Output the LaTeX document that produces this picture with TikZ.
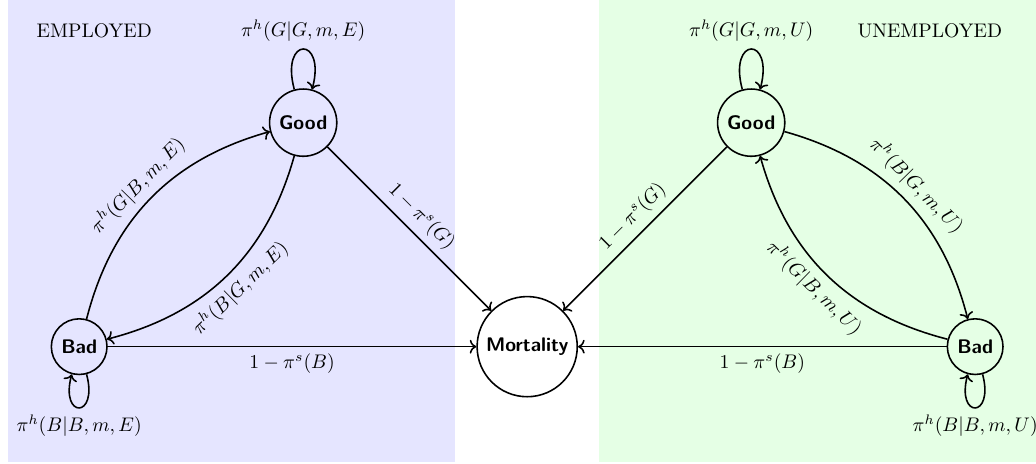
\documentclass[tikz,border=0pt]{standalone}
\usetikzlibrary{arrows.meta}

\begin{document}
\begin{tikzpicture}[
    health/.style={circle, draw, thick, font=\sffamily\bfseries},
    trans/.style={->, thick}]
  \useasboundingbox (-9.414,-2.08) rectangle (9.086,6.19);
  % regimes
  \fill[blue!10] (-9.27,-2.06) rectangle (-1.29,6.19);
  \fill[green!10] (1.29,-2.06) rectangle (9.086,6.19);
  \node (empl) at (-7.73,5.64) {EMPLOYED};
  \node (unempl) at (7.19,5.64) {UNEMPLOYED};
  % health states
  \node[health] (mort) at (0,0) {Mortality};
  \node[health] (goodE) at (-4,4) {Good};
  \node[health] (badE) at (-8,0) {Bad};
  \node[health] (goodU) at (4,4) {Good};
  \node[health] (badU) at (8,0) {Bad};
  % employed
  \draw[trans] (goodE) to[loop above] node[above] {$\pi^h(G|G,m,E)$} (goodE);
  \draw[trans] (badE) to[loop below] node[below] {$\pi^h(B|B,m,E)$} (badE);
  \draw[trans] (badE) to[bend left] node[above, sloped] {$\pi^h(G|B,m,E)$} (goodE);
  \draw[trans] (goodE) to[bend left] node[below, sloped] {$\pi^h(B|G,m,E)$} (badE);
  \draw[trans] (goodE) -- node[above, sloped] {$1-\pi^s(G)$} (mort);
  \draw[trans] (badE) -- node[below] {$1-\pi^s(B)$} (mort);
  % unemployed
  \draw[trans] (goodU) to[loop above] node[above] {$\pi^h(G|G,m,U)$} (goodU);
  \draw[trans] (badU) to[loop below] node[below] {$\pi^h(B|B,m,U)$} (badU);
  \draw[trans] (goodU) to[bend left] node[above, sloped] {$\pi^h(B|G,m,U)$} (badU);
  \draw[trans] (badU) to[bend left] node[below, sloped] {$\pi^h(G|B,m,U)$} (goodU);
  \draw[trans] (goodU) -- node[above, sloped] {$1-\pi^s(G)$} (mort);
  \draw[trans] (badU) -- node[below] {$1-\pi^s(B)$} (mort);
\end{tikzpicture}
\end{document}
